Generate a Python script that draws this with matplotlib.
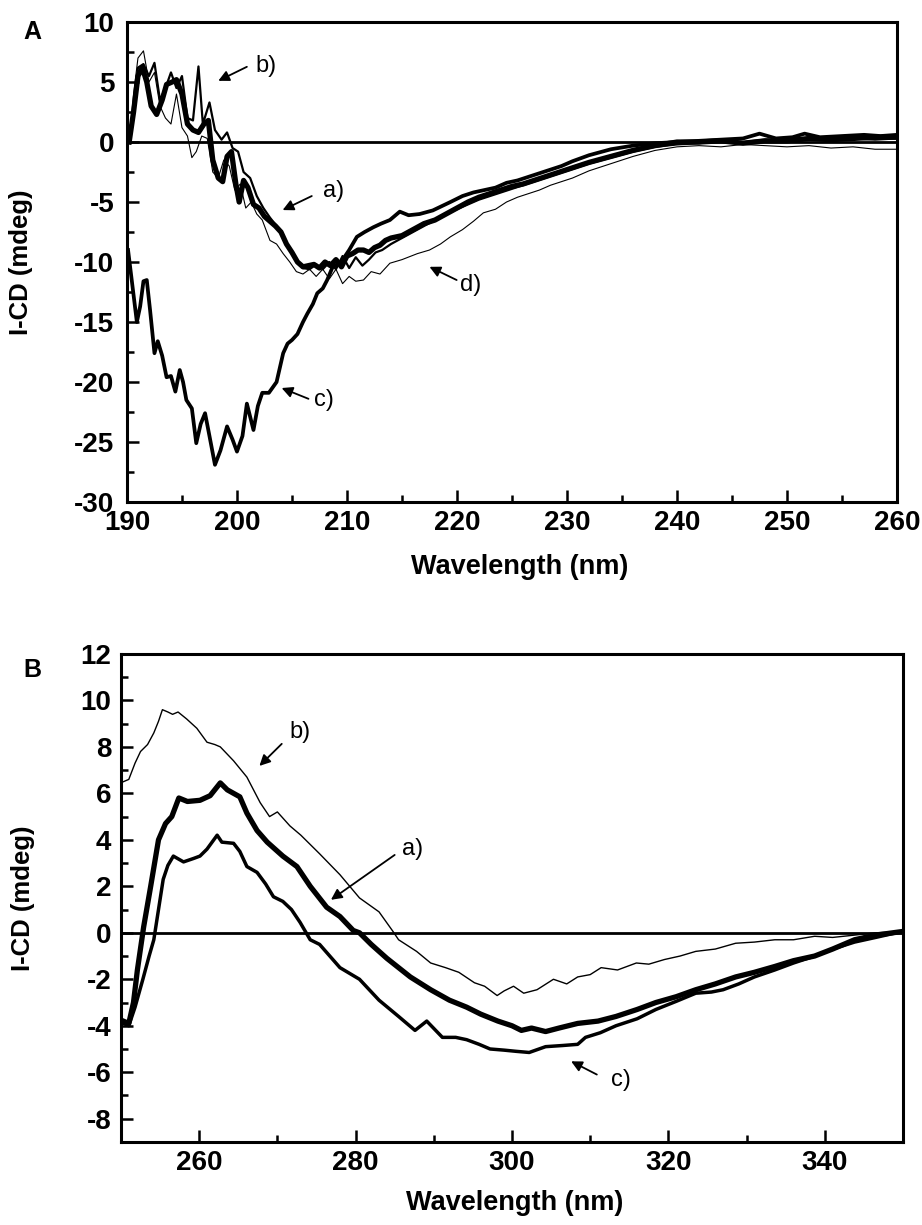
import matplotlib
matplotlib.use("Agg")
import matplotlib.pyplot as plt
from matplotlib.ticker import MultipleLocator

plt.rcParams['axes.unicode_minus'] = False

# ---------------- Panel A data (far-UV) ----------------
A_a_x = [190.2, 190.6, 191.0, 191.4, 191.8, 192.2, 192.7, 193.2, 193.6, 194.1, 194.5, 195.0, 195.5, 196.0, 196.5,
         197.0, 197.4, 197.8, 198.3, 198.7, 199.1, 199.5, 199.9, 200.2, 200.6, 201.0, 201.5, 202.0, 202.5, 203.0,
         203.5, 204.0, 204.5, 205.0, 205.5, 206.0, 206.5, 207.0, 207.5, 208.0, 208.5, 209.0, 209.5, 210.0, 210.5,
         211.0, 211.5, 212.0, 212.5, 213.0, 213.5, 214.0, 215, 216, 217, 218, 219, 220, 221, 222, 223, 224, 225,
         226, 227, 228, 229, 230, 232, 234, 236, 238, 240, 242, 244, 246, 248, 250, 252, 254, 256, 258, 260]
A_a_y = [0, 2.5, 5.5, 6.2, 5.0, 3.0, 2.3, 3.5, 4.8, 5.0, 5.2, 4.0, 1.5, 1.0, 0.8,
         1.5, 1.8, -1.5, -3.0, -3.3, -1.2, -0.8, -3.5, -5.0, -3.2, -3.8, -5.2, -5.5, -6.2, -6.6,
         -7.0, -7.5, -8.5, -9.2, -10.0, -10.4, -10.3, -10.2, -10.5, -10.0, -10.3, -9.8, -10.4, -9.5, -9.3,
         -9.0, -9.0, -9.2, -8.8, -8.6, -8.2, -8.0, -7.8, -7.3, -6.8, -6.5, -6.0, -5.5, -5.0, -4.6, -4.3, -4.0, -3.7,
         -3.5, -3.2, -2.9, -2.6, -2.3, -1.7, -1.2, -0.7, -0.3, 0.0, 0.0, 0.1, -0.1, 0.1, 0.1, 0.3, 0.2, 0.3, 0.4, 0.4]

A_b_x = [190.2, 190.6, 191.0, 191.5, 192.0, 192.5, 193.0, 193.5, 194.0, 194.5, 195.0, 195.5, 196.0, 196.5, 196.9,
         197.5, 198.0, 198.6, 199.1, 199.6, 200.1, 200.6, 201.2, 201.8, 202.4, 203, 203.6, 204.2, 204.8, 205.4,
         206, 206.6, 207.2, 207.8, 208.4, 209, 209.6, 210.2, 210.8, 211.4, 212, 212.6, 213.2, 214, 215, 216, 217,
         218, 219, 220, 221, 222, 223, 224, 225, 226, 227, 228, 229, 230, 232, 234, 236, 238, 240, 242, 244, 246,
         248, 250, 252, 254, 256, 258, 260]
A_b_y = [0, 3, 6.2, 6.5, 5.5, 6.6, 3.5, 4.5, 5.8, 4.5, 5.5, 2.0, 1.8, 6.3, 1.5,
         3.3, 1.0, 0.2, 0.8, -0.5, -0.8, -2.5, -3.0, -4.5, -5.5, -6.3, -7.0, -7.8, -9.0, -9.8,
         -10.5, -10.6, -10.2, -10.6, -10.0, -10.6, -9.5, -10.5, -9.6, -10.3, -9.8, -9.2, -9.0, -8.5, -8.0, -7.5, -7.0,
         -6.5, -6.0, -5.6, -5.2, -4.8, -4.5, -4.2, -3.9, -3.6, -3.3, -3.0, -2.7, -2.4, -1.8, -1.3, -0.8, -0.4, -0.2,
         -0.1, 0.1, 0.0, 0.2, 0.1, 0.2, 0.3, 0.3, 0.2, 0.3]

A_c_x = [190.1, 190.5, 190.9, 191.2, 191.5, 191.8, 192.1, 192.5, 192.8, 193.2, 193.6, 194.0, 194.4, 194.8, 195.1,
         195.4, 195.9, 196.3, 196.7, 197.1, 197.5, 198.0, 198.5, 199.1, 199.6, 200.0, 200.5, 200.9, 201.5, 201.9,
         202.3, 202.9, 203.6, 204.2, 204.6, 205.0, 205.5, 206.0, 206.4, 206.9, 207.3, 207.8, 208.2, 208.7, 209.4,
         210.2, 210.9, 211.6, 212.4, 213.1, 213.9, 214.8, 215.6, 216.6, 217.8, 219.4, 220.5, 221.5, 222.5, 223.5,
         224.5, 225.5, 226.5, 227.5, 228.5, 229.5, 230.5, 232, 234, 236, 238, 240, 242, 244, 246, 247.5, 249,
         250.5, 251.6, 253, 255, 257, 258.5, 260]
A_c_y = [-9.0, -12.0, -15.0, -13.7, -11.6, -11.5, -14.0, -17.6, -16.6, -17.8, -19.6, -19.5, -20.8, -19.0, -20.0,
         -21.5, -22.2, -25.1, -23.5, -22.6, -24.5, -26.9, -25.7, -23.7, -24.8, -25.8, -24.5, -21.8, -24.0, -22.0,
         -20.9, -20.9, -20.0, -17.6, -16.8, -16.5, -16.0, -15.0, -14.3, -13.5, -12.6, -12.2, -11.5, -10.4, -10.1,
         -9.0, -7.9, -7.5, -7.1, -6.8, -6.5, -5.8, -6.1, -6.0, -5.7, -5.0, -4.5, -4.2, -4.0, -3.8,
         -3.4, -3.2, -2.9, -2.6, -2.3, -2.0, -1.6, -1.1, -0.6, -0.3, -0.1, 0.0, 0.1, 0.2, 0.3, 0.7, 0.3,
         0.4, 0.7, 0.4, 0.5, 0.6, 0.5, 0.6]

A_d_x = [190.2, 190.6, 191.0, 191.5, 192.0, 192.5, 193.0, 193.5, 194.0, 194.5, 195.0, 195.5, 195.9, 196.3, 196.8,
         197.3, 197.8, 198.3, 198.8, 199.3, 199.8, 200.3, 200.8, 201.3, 201.8, 202.3, 203, 203.6, 204.2, 204.8,
         205.4, 206, 206.6, 207.2, 207.8, 208.4, 209, 209.6, 210.2, 210.8, 211.5, 212.2, 213, 213.9, 215, 216.4,
         217.5, 218.5, 219.4, 220.5, 221.5, 222.4, 223.5, 224.5, 225.5, 226.5, 227.5, 228.5, 229.5, 230.5, 232,
         234, 236, 238, 240, 242, 244, 246, 248, 250, 252, 254, 256, 258, 260]
A_d_y = [0, 4, 7.0, 7.6, 5.0, 5.8, 3.0, 2.0, 1.5, 4.0, 1.2, 0.5, -1.3, -0.8, 0.5,
         0.3, -2.5, -3.0, -1.5, -2.0, -4.0, -3.5, -5.5, -5.0, -6.0, -6.5, -8.2, -8.5, -9.3, -10.0,
         -10.8, -11.0, -10.6, -11.2, -10.6, -11.4, -10.6, -11.8, -11.2, -11.6, -11.5, -10.8, -11.0, -10.1, -9.8, -9.3,
         -9.0, -8.5, -7.9, -7.3, -6.6, -5.9, -5.6, -5.0, -4.6, -4.3, -4.0, -3.6, -3.3, -3.0, -2.4,
         -1.8, -1.2, -0.7, -0.4, -0.3, -0.4, -0.2, -0.3, -0.4, -0.3, -0.5, -0.4, -0.6, -0.6]

# ---------------- Panel B data (near-UV) ----------------
B_a_x = [250.3, 251.0, 251.6, 252.1, 252.9, 253.8, 254.8, 255.7, 256.5, 257.4, 258.5, 260.1, 261.4, 262.7, 263.6,
         265.2, 266.1, 267.4, 268.7, 270.7, 272.5, 274.2, 276.3, 278.0, 279.7, 280.5, 282, 284.0, 287.0, 289.6,
         292, 294.2, 296, 298.2, 300, 301.2, 302.5, 304.3, 306, 308.4, 311, 313.3, 316, 318.4, 321, 323.5, 326,
         328.6, 331, 333.6, 336, 338.7, 341, 343.8, 346.5, 349.8]
B_a_y = [-3.8, -3.9, -3.0, -1.6, 0.25, 2.0, 4.0, 4.7, 5.0, 5.8, 5.65, 5.7, 5.9, 6.45, 6.15,
         5.85, 5.15, 4.4, 3.9, 3.3, 2.85, 2.0, 1.1, 0.7, 0.1, 0.0, -0.5, -1.1, -1.9, -2.45,
         -2.9, -3.2, -3.5, -3.8, -4.0, -4.2, -4.1, -4.25, -4.1, -3.9, -3.8, -3.6, -3.3, -3.0, -2.75, -2.45, -2.2,
         -1.9, -1.7, -1.45, -1.2, -1.0, -0.7, -0.3, -0.1, 0.05]

B_b_x = [250.3, 251.0, 251.8, 252.5, 253.4, 254.2, 254.8, 255.3, 256.0, 256.6, 257.3, 258.4, 259.7, 261.0, 262.0,
         262.7, 264.4, 266.1, 267.8, 269.0, 270.0, 271.6, 273.0, 275.4, 278.0, 280.5, 283.0, 284.8, 285.5, 287.8,
         289.6, 291.5, 293.2, 295.2, 296.5, 298.1, 299.0, 300.2, 301.5, 303.2, 305.3, 307.0, 308.4, 310.0, 311.4,
         313.5, 315.9, 317.5, 319.5, 321.5, 323.5, 326, 328.6, 331, 333.6, 336, 338.7, 341, 343.8, 346.5, 349.8]
B_b_y = [6.5, 6.6, 7.3, 7.8, 8.1, 8.6, 9.1, 9.6, 9.5, 9.4, 9.5, 9.2, 8.8, 8.2, 8.1,
         8.0, 7.4, 6.7, 5.6, 5.0, 5.2, 4.6, 4.2, 3.4, 2.5, 1.5, 0.9, 0.05, -0.3, -0.8,
         -1.3, -1.5, -1.7, -2.15, -2.3, -2.7, -2.5, -2.3, -2.6, -2.45, -2.0, -2.2, -1.9, -1.8, -1.5,
         -1.6, -1.3, -1.35, -1.15, -1.0, -0.8, -0.7, -0.45, -0.4, -0.3, -0.3, -0.15, -0.2, -0.1, 0.0, 0.05]

B_c_x = [250.3, 251.0, 251.8, 252.8, 253.6, 254.2, 254.8, 255.4, 256.0, 256.7, 258.0, 259.3, 260.1, 261.0, 262.3,
         262.9, 264.4, 265.2, 266.1, 267.4, 268.5, 269.5, 270.7, 271.8, 272.9, 274.2, 275.4, 278.0, 280.5, 283.0,
         285.5, 287.6, 289.1, 291.1, 292.8, 294.2, 295.8, 297.2, 299, 300.5, 302.2, 304.3, 306.5, 308.4, 309.4,
         311.3, 313.3, 316, 318.4, 321, 323.5, 325.5, 327, 329, 331, 333.6, 336, 338.7, 341, 343.8, 346.5, 349.8]
B_c_y = [-3.9, -4.0, -3.2, -2.0, -1.0, -0.3, 1.0, 2.3, 2.9, 3.3, 3.05, 3.2, 3.3, 3.6, 4.2,
         3.9, 3.85, 3.5, 2.85, 2.6, 2.1, 1.55, 1.35, 1.0, 0.45, -0.3, -0.5, -1.5, -2.0, -2.9,
         -3.6, -4.2, -3.8, -4.5, -4.5, -4.6, -4.8, -5.0, -5.05, -5.1, -5.15, -4.9, -4.85, -4.8, -4.5,
         -4.3, -4.0, -3.7, -3.3, -2.95, -2.6, -2.55, -2.45, -2.2, -1.9, -1.6, -1.3, -1.0, -0.7, -0.4, -0.2, 0.05]

# Curve labels: (text, text_x, text_y, arrow_tail_x, arrow_tail_y, arrow_tip_x, arrow_tip_y)
A_labels = [("b)", 201.7, 6.3, 200.9, 6.27, 198.3, 5.1),
            ("a)", 207.8, -4.06, 206.8, -4.5, 204.15, -5.67),
            ("c)", 207.0, -21.5, 206.5, -21.4, 204.06, -20.5),
            ("d)", 220.3, -11.9, 219.97, -11.5, 217.5, -10.4)]
B_labels = [("b)", 271.5, 8.66, 270.56, 8.13, 267.7, 7.18),
            ("a)", 285.9, 3.6, 285.0, 3.35, 276.85, 1.42),
            ("c)", 312.6, -6.32, 310.85, -6.1, 307.56, -5.53)]

FONT = ['Liberation Sans', 'DejaVu Sans']

fig = plt.figure(figsize=(9.22, 12.25), dpi=100)
axA = fig.add_axes([0.1377, 0.5902, 0.8352, 0.3918])
axB = fig.add_axes([0.1312, 0.0678, 0.8482, 0.3984])


def style(ax, ypad):
    for s in ax.spines.values():
        s.set_linewidth(2.2)
    ax.tick_params(which='both', direction='in', width=1.8, top=False, right=False)
    ax.tick_params(which='major', length=8.5)
    ax.tick_params(which='minor', length=5)
    ax.tick_params(axis='x', which='major', pad=6)
    ax.tick_params(axis='y', which='major', pad=ypad)
    for lab in ax.get_xticklabels() + ax.get_yticklabels():
        lab.set_family(FONT)
        lab.set_fontweight('bold')
        lab.set_fontsize(20)


# Panel A
axA.plot(A_d_x, A_d_y, color='black', lw=0.8)
axA.plot(A_b_x, A_b_y, color='black', lw=1.6)
axA.plot(A_c_x, A_c_y, color='black', lw=2.7)
axA.plot(A_a_x, A_a_y, color='black', lw=3.8)
axA.axhline(0, color='black', lw=2.0)
axA.set_xlim(190, 260)
axA.set_ylim(-30, 10)
axA.xaxis.set_major_locator(MultipleLocator(10))
axA.xaxis.set_minor_locator(MultipleLocator(5))
axA.yaxis.set_major_locator(MultipleLocator(5))
axA.yaxis.set_minor_locator(MultipleLocator(2.5))
style(axA, 9)

# Panel B
axB.plot(B_b_x, B_b_y, color='black', lw=1.0)
axB.plot(B_c_x, B_c_y, color='black', lw=2.5)
axB.plot(B_a_x, B_a_y, color='black', lw=3.8)
axB.axhline(0, color='black', lw=2.0)
axB.set_xlim(250, 350)
axB.set_ylim(-9, 12)
axB.set_xticks([260, 280, 300, 320, 340])
axB.xaxis.set_minor_locator(MultipleLocator(10))
axB.yaxis.set_major_locator(MultipleLocator(2))
axB.yaxis.set_minor_locator(MultipleLocator(1))
style(axB, 7)

for ax, labels in ((axA, A_labels), (axB, B_labels)):
    for txt, tx, ty, ax0, ay0, ax1, ay1 in labels:
        ax.text(tx, ty, txt, family=FONT, fontsize=17, ha='left', va='center')
        ax.annotate('', xy=(ax1, ay1), xytext=(ax0, ay0),
                    arrowprops=dict(arrowstyle='-|>', color='black', lw=1.3,
                                    mutation_scale=16, shrinkA=0, shrinkB=0))
    ax.set_xlabel('Wavelength (nm)', family=FONT, fontweight='bold', fontsize=19.5, va='center')
    ax.set_ylabel('I-CD (mdeg)', family=FONT, fontweight='bold', fontsize=18.5, va='center')

axA.xaxis.set_label_coords(0.51, -0.135)
axA.yaxis.set_label_coords(-0.138, 0.5)
axB.xaxis.set_label_coords(0.504, -0.125)
axB.yaxis.set_label_coords(-0.125, 0.5)

fig.text(32 / 922, 1 - 32 / 1225, 'A', family=FONT, fontweight='bold', fontsize=18, ha='center', va='center')
fig.text(32 / 922, 1 - 670 / 1225, 'B', family=FONT, fontweight='bold', fontsize=18, ha='center', va='center')

fig.savefig('out.png', dpi=100)
